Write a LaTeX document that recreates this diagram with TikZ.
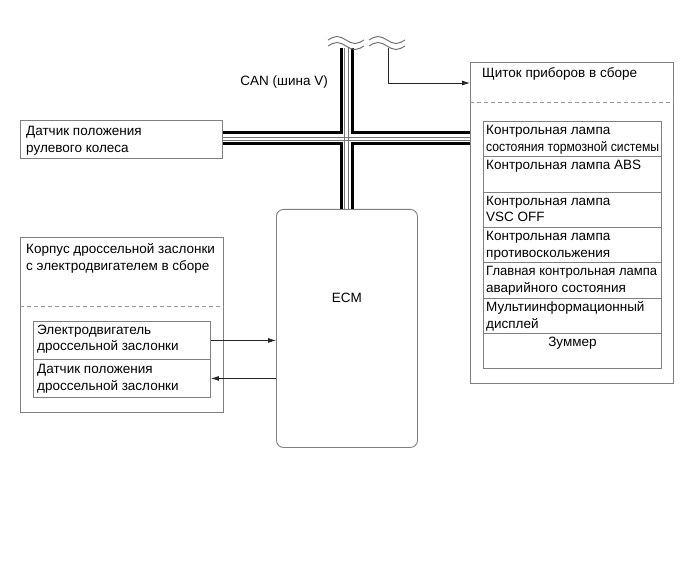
\documentclass[tikz,border=0pt]{standalone}
\usepackage{fontspec}
\setmainfont{Liberation Sans}
\usepackage{graphicx}
\usepackage{tkz-euclide}
\usetikzlibrary{positioning,arrows.meta}
\begin{document}
\begin{tikzpicture}[x=1pt,y=-1pt,
  box/.style={draw=black!50,line width=0.9pt,inner sep=0pt,anchor=north west},
  txt/.style={inner sep=0pt,align=left,text=black,font=\fontsize{13.5}{16.8}\selectfont},
  bus/.style={line width=3pt},
  wire/.style={draw=black!55,line width=0.9pt},
  sig/.style={draw=black!85,line width=0.8pt,-{Latex[length=8pt,width=5pt]}},
  brk/.style={draw=black!55,line width=1pt},
  sep/.style={draw=black!40,line width=0.9pt,dash pattern=on 4pt off 3pt}]
  \useasboundingbox (0,0) rectangle (690,561);
  \tkzDefPoints{341/48/A,352/48/B,341/133/C,352/133/D,341/144/E,352/144/F,388/48/K,388/83/L}
	\node[box,minimum width=202,minimum height=38] (steer) at (20,120) {};
	\node[box,minimum width=203,minimum height=321] (meter) at (470,62) {};
	\node[box,minimum width=203,minimum height=175] (thr) at (20,237) {};
	\node[box,minimum width=177,minimum height=38] (motor) at (33,321) {};
	\node[box,minimum width=177,minimum height=38] (tps) at (33,359) {};
	\node[box,minimum width=141,minimum height=238,rounded corners=7pt] (ecm) at (276,209) {};
	\foreach \i in {0,...,6}
	  \node[box,minimum width=178,minimum height=35.3] (row\i) at (483,121+35.3*\i) {};
	\draw[sep] ([yshift=-40pt]meter.north west) -- ([yshift=-40pt]meter.north east);
	\draw[sep] ([yshift=-69pt]thr.north west) -- ([yshift=-69pt]thr.north east);
	\draw[bus] (A) -- (C) -- (steer.east |- C);
	\draw[bus] (B) -- (D) -- (meter.west |- D);
	\draw[bus] (steer.east |- E) -- (E) -- (E |- ecm.north);
	\draw[bus] (meter.west |- F) -- (F) -- (F |- ecm.north);
	\draw[wire] ([xshift=3.5pt]A) -- ([xshift=3.5pt]A |- ecm.north);
	\draw[wire] ([xshift=-3.5pt]B) -- ([xshift=-3.5pt]B |- ecm.north);
	\draw[wire] ([yshift=-4pt]steer.east |- C) -- ([yshift=-4pt]meter.west |- C);
	\draw[wire] ([yshift=4pt]steer.east |- E) -- ([yshift=4pt]meter.west |- E);
	\foreach \x in {328,369}
	  \foreach \y in {40,46}
	    \draw[brk] (\x,\y) sin (\x+9,\y-3.5) cos (\x+18,\y) sin (\x+27,\y+3.5) cos (\x+36,\y);
	\draw[sig] (K) -- (L) -- (L -| meter.west);
	\draw[sig] (motor.east) -- (motor.east -| ecm.west);
	\draw[sig] (tps.east -| ecm.west) -- (tps.east);
	\node[txt,anchor=east] (can) at (328,82) {CAN (шина V)};
	\node[txt,below right=6.5pt and 6pt of steer.north west] (steerT) {Датчик положения\\рулевого колеса};
	\node[txt,below right=5pt and 12pt of meter.north west] (meterT) {Щиток приборов в сборе};
	\node[txt,below right=6pt and 6pt of thr.north west] (thrT) {Корпус дроссельной заслонки\\с электродвигателем в сборе};
	\node[txt,below right=3.5pt and 4pt of motor.north west] (motorT) {Электродвигатель\\дроссельной заслонки};
	\node[txt,below right=5pt and 4pt of tps.north west] (tpsT) {Датчик положения\\дроссельной заслонки};
	\node[txt,below=84pt of ecm.north] (ecmT) {ECM};
	\node[txt,below right=4pt and 3pt of row0.north west] (lamp0) {Контрольная лампа\\\resizebox{173pt}{\height}{состояния тормозной системы}};
	\node[txt,below right=4pt and 3pt of row1.north west] (lamp1) {Контрольная лампа ABS};
	\node[txt,below right=4pt and 3pt of row2.north west] (lamp2) {Контрольная лампа\\VSC OFF};
	\node[txt,below right=4pt and 3pt of row3.north west] (lamp3) {Контрольная лампа\\противоскольжения};
	\node[txt,below right=4pt and 3pt of row4.north west] (lamp4) {\resizebox{171pt}{\height}{Главная контрольная лампа}\\аварийного состояния};
	\node[txt,below right=4pt and 3pt of row5.north west] (lamp5) {Мультиинформационный\\дисплей};
	\node[txt,below=4pt of row6.north] (buzz) {Зуммер};
\end{tikzpicture}
\end{document}
